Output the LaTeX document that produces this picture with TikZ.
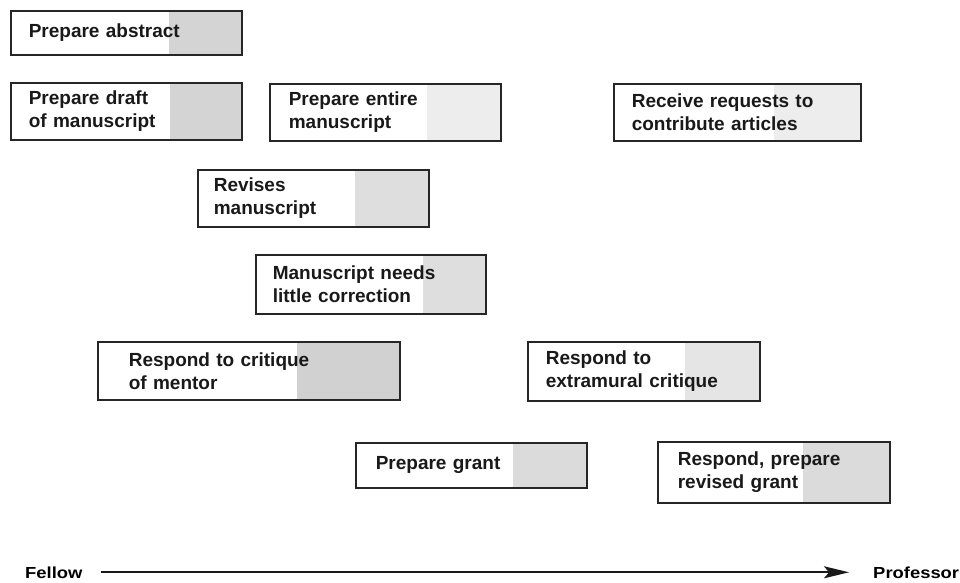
\documentclass[tikz,border=0pt]{standalone}
\usepackage{fontspec}
\setmainfont{Liberation Sans}
\usetikzlibrary{arrows.meta}

\tikzset{
  stage/.style={draw=black!85, line width=1.6pt, anchor=north west, align=left,
    font=\bfseries\fontsize{19}{23}\selectfont, inner ysep=0pt, text=black!90},
  careerarrow/.style={line width=1.8pt, draw=black!90,
    -{Stealth[length=25pt,width=12pt,inset=5pt]}},
  careerlabel/.style={font=\bfseries\fontsize{16}{18}\selectfont, xscale=1.15,
    inner sep=0pt, text=black}
}

% #1 name, #2 x, #3 y, #4 width, #5 height, #6 text inset,
% #7 x where the shaded end begins, #8 shade colour, #9 text
\newcommand\stagebox[9]{%
  \fill[#8] (#7,#3) rectangle (#2+#4,#3+#5);
  \pgfmathsetmacro\stagetw{#4-2*#6}%
  \node[stage, minimum width=#4pt, minimum height=#5pt, inner xsep=#6pt,
        text width=\stagetw pt] (#1) at (#2,#3) {#9};
}

\begin{document}
\begin{tikzpicture}[x=1pt, y=-1pt]
\useasboundingbox (0,0) rectangle (960,582);

\stagebox{abstract}{10}{10}{231}{44}{18}{169}{black!17}{Prepare abstract}
\stagebox{draft}{10}{82}{231}{57}{18}{170}{black!17}{Prepare draft\\of manuscript}
\stagebox{entire}{269}{83}{231}{57}{19}{427}{black!7}{Prepare entire\\manuscript}
\stagebox{requests}{613}{83}{247}{57}{18}{774}{black!7}{Receive requests to\\contribute articles}
\stagebox{revises}{197}{169}{231}{57}{16}{355}{black!13}{Revises\\manuscript}
\stagebox{correction}{255}{254}{230}{59}{17}{423}{black!13}{Manuscript needs\\little correction}
\stagebox{mentor}{97}{341}{302}{58}{31}{297}{black!18}{Respond to critique\\of mentor}
\stagebox{extramural}{527}{341}{232}{59}{18}{685}{black!10}{Respond to\\extramural critique}
\stagebox{grant}{355}{442}{231}{45}{20}{513}{black!14}{Prepare grant}
\stagebox{revised}{657}{441}{232}{61}{20}{803}{black!14}{Respond, prepare\\revised grant}

% career axis
\node[careerlabel, anchor=base west] (fellow) at (25,578) {Fellow};
\node[careerlabel, anchor=base west] (professor) at (873,578) {Professor};
\draw[careerarrow] ([xshift=18pt]fellow.east) -- ([xshift=-24pt]professor.west);
\end{tikzpicture}
\end{document}
